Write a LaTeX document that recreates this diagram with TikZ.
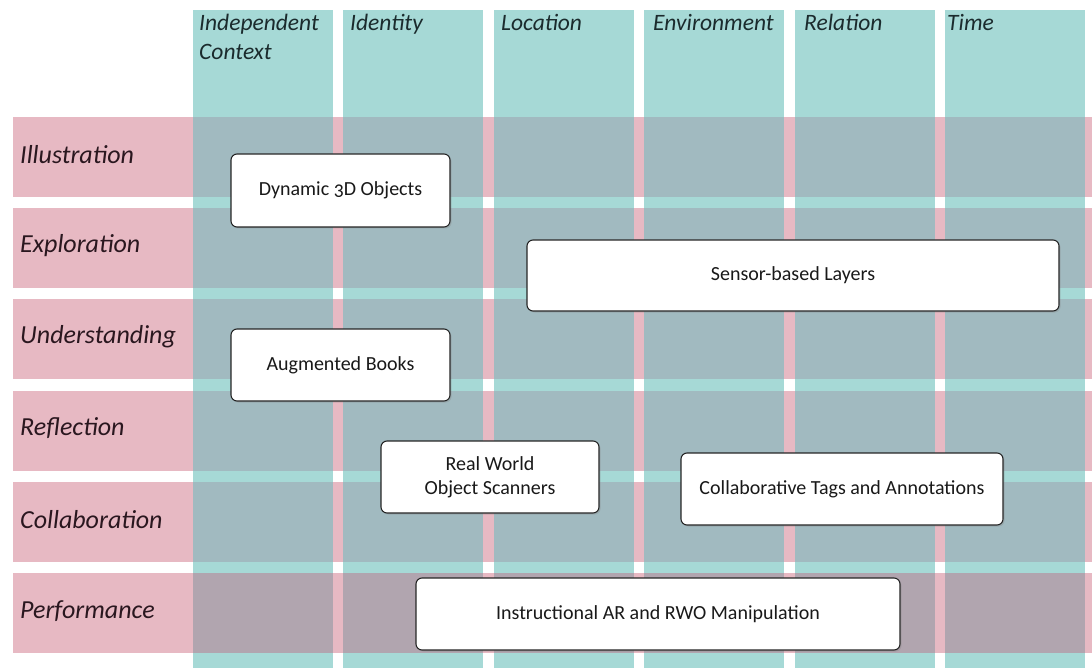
\documentclass[tikz,border=0pt]{standalone}
\usepackage{fontspec}
\setmainfont{Carlito}[Numbers=OldStyle]
\usetikzlibrary{shadows}
\definecolor{colteal}{HTML}{A6D9D6}
\definecolor{rowpink}{HTML}{E7B9C3}
\definecolor{cellgrey}{HTML}{A1BAC0}
\definecolor{cellmauve}{HTML}{B1A5AF}
\definecolor{rowtext}{HTML}{2A171F}
\definecolor{coltext}{HTML}{1B2B2D}
\tikzset{
  rowlabel/.style={anchor=west, inner sep=0pt, text=rowtext, font=\fontsize{26}{29}\selectfont\itshape},
  collabel/.style={anchor=north west, inner sep=0pt, text=coltext, align=left, font=\fontsize{23.5}{29}\selectfont\itshape},
  itembox/.style={draw=black!85, line width=1.1pt, fill=white, rounded corners=6pt, inner sep=0pt, outer sep=0pt,
    align=center, text=black!90, font=\fontsize{20}{24}\selectfont,
    drop shadow={shadow xshift=1.5pt, shadow yshift=-1.5pt, opacity=0.3}}
}
\begin{document}
\begin{tikzpicture}[x=1pt,y=-1pt]
\useasboundingbox (0,0) rectangle (1092,668);
\fill[white] (0,0) rectangle (1092,668);
% columns
\foreach \i in {0,...,5} {\fill[colteal] ({193+150.4*\i},10) rectangle ++(140,658);}
% rows
\foreach \j in {0,...,5} {\fill[rowpink] (13,{117+91.2*\j}) rectangle (1092,{197+91.2*\j});}
% overlaps
\foreach \i in {0,...,5} {
  \foreach \j in {0,...,4} {\fill[cellgrey] ({193+150.4*\i},{117+91.2*\j}) rectangle ++(140,80);}
  \fill[cellmauve] ({193+150.4*\i},573) rectangle ++(140,80);
}
% column headers
\node[collabel] (c1) at (199,14) {Independent\\Context};
\node[collabel] (c2) at (350,14) {Identity};
\node[collabel] (c3) at (501,14) {Location};
\node[collabel] (c4) at (653,14) {Environment};
\node[collabel] (c5) at (804,14) {Relation};
\node[collabel] (c6) at (947,14) {Time};
% row labels
\node[rowlabel] (r1) at (20,155) {Illustration};
\node[rowlabel] (r2) at (20,246) {Exploration};
\node[rowlabel] (r3) at (20,337) {Understanding};
\node[rowlabel] (r4) at (20,428) {Reflection};
\node[rowlabel] (r5) at (20,520) {Collaboration};
\node[rowlabel] (r6) at (20,611) {Performance};
% boxes
\node[itembox, minimum width=219pt, minimum height=73pt] (b1) at (340.5,190.5) {Dynamic 3D Objects};
\node[itembox, minimum width=532pt, minimum height=71pt] (b2) at (793,275.5) {Sensor-based Layers};
\node[itembox, minimum width=219pt, minimum height=72pt] (b3) at (340.5,365) {Augmented Books};
\node[itembox, minimum width=218pt, minimum height=72pt] (b4) at (490,477) {Real World\\Object Scanners};
\node[itembox, minimum width=322pt, minimum height=72pt] (b5) at (842,489) {Collaborative Tags and Annotations};
\node[itembox, minimum width=484pt, minimum height=72pt] (b6) at (658,614) {Instructional AR and RWO Manipulation};
\end{tikzpicture}
\end{document}
